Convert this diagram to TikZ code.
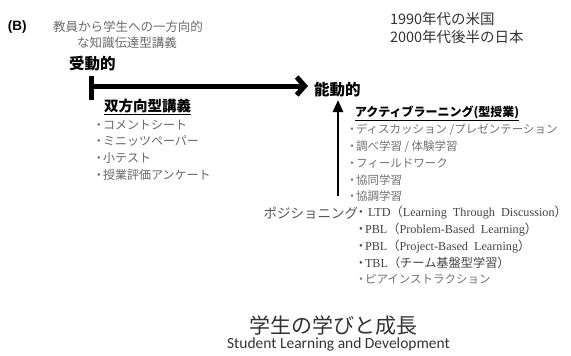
\documentclass[tikz,border=0pt]{standalone}
\usepackage{fontspec}
\setmainfont{Noto Sans CJK JP}
\newfontfamily\serifL{Liberation Serif}
\newfontfamily\calib{Carlito}
\newfontfamily\arialf{Liberation Sans}
\usetikzlibrary{arrows.meta}
\definecolor{gLeft}{HTML}{666666}
\definecolor{gRight}{HTML}{707070}
\definecolor{gNote}{HTML}{6A6A6A}
\definecolor{gDark}{HTML}{444444}
\definecolor{gPos}{HTML}{555555}
\definecolor{tYear}{HTML}{333333}
\newcommand\dt{\makebox[8pt]{・}}
\newcommand\lat[1]{{\serifL #1}}
\tikzset{
  txt/.style={anchor=west, inner sep=0pt, outer sep=0pt},
  head/.style={txt, font=\fontsize{15.5}{17}\selectfont\bfseries},
  note/.style={txt, text=gNote, font=\fontsize{12.5}{14}\selectfont},
  year/.style={txt, text=tYear, font=\fontsize{14.5}{16}\selectfont},
  leftitem/.style={txt, text=gLeft, font=\fontsize{12}{14}\selectfont},
  rightitem/.style={txt, text=gRight, font=\fontsize{11.5}{13}\selectfont},
  seritem/.style={txt, text=gDark, font=\fontsize{12.2}{14}\selectfont},
  sub/.style={txt, font=\fontsize{14.5}{16}\selectfont\bfseries},
  bigarrow/.style={line width=5pt, -{Straight Barb[length=8pt,width=18pt]}},
  thinarrow/.style={line width=2.7pt, -{Triangle[length=12pt,width=10pt]}},
  barline/.style={line width=5pt}
}
\begin{document}
\begin{tikzpicture}[x=1pt,y=-1pt]
\useasboundingbox (0,0) rectangle (571,356);
% header
\node[txt, font=\arialf\fontsize{13.5}{15}\selectfont\bfseries] (B) at (8,27) {(B)};
\node[note] (n1) at (53,27) {教員から学生への一方向的};
\node[note] (n2) at (77,42.5) {な知識伝達型講義};
\node[year] (y1) at (390,18.5) {1990年代の米国};
\node[year] (y2) at (390,37) {2000年代後半の日本};
% passive / active
\node[head] (passive) at (69,64) {受動的};
\node[head] (active) at (314,90) {能動的};
\coordinate (bt) at (91,76);
\coordinate (bb) at (91,100);
\coordinate (hs) at (91,86);
\coordinate (he) at (308,86);
\draw[barline] (bt) -- (bb);
\draw[bigarrow] (hs) -- (he);
\coordinate (vs) at (338,196);
\coordinate (ve) at (338,100);
\draw[thinarrow] (vs) -- (ve);
% left block
\node[sub] (bi) at (104,107) {\underline{双方向型講義}};
\node[leftitem] (l1) at (95,125) {\dt コメントシート};
\node[leftitem] (l2) at (95,141.5) {\dt ミニッツペーパー};
\node[leftitem] (l3) at (95,158) {\dt 小テスト};
\node[leftitem] (l4) at (95,174.5) {\dt 授業評価アンケート};
% right block
\node[txt, font=\fontsize{12}{14}\selectfont\bfseries] (al) at (355,113) {\underline{アクティブラーニング(型授業)}};
\node[rightitem] (r1) at (348,130) {\dt ディスカッション /プレゼンテーション};
\node[rightitem] (r2) at (348,146.6) {\dt 調べ学習 / 体験学習};
\node[rightitem] (r3) at (348,163.2) {\dt フィールドワーク};
\node[rightitem] (r4) at (348,179.8) {\dt 協同学習};
\node[rightitem] (r5) at (348,196.4) {\dt 協調学習};
\node[txt, anchor=east, text=gPos, font=\fontsize{13.5}{15}\selectfont] (pos) at (358,213) {ポジショニング};
\node[seritem] (s1) at (357,213) {\dt\lat{ LTD}（\lat{Learning\ \ Through\ \ Discussion}）};
\node[seritem] (s2) at (357,229.6) {\dt\lat{PBL}（\lat{Problem-Based\ \ Learning}）};
\node[seritem] (s3) at (357,246.2) {\dt\lat{PBL}（\lat{Project-Based\ \ Learning}）};
\node[seritem] (s4) at (357,262.8) {\dt\lat{TBL}（チーム基盤型学習）};
\node[rightitem] (s5) at (357,279.4) {\dt ピアインストラクション};
% bottom
\node[inner sep=0pt, text=tYear, font=\fontsize{21}{24}\selectfont] (title) at (333.5,326) {学生の学びと成長};
\node[inner sep=0pt, text=tYear, font=\calib\fontsize{15.5}{17}\selectfont] (subt) at (338.5,344) {Student Learning and Development};
\end{tikzpicture}
\end{document}
